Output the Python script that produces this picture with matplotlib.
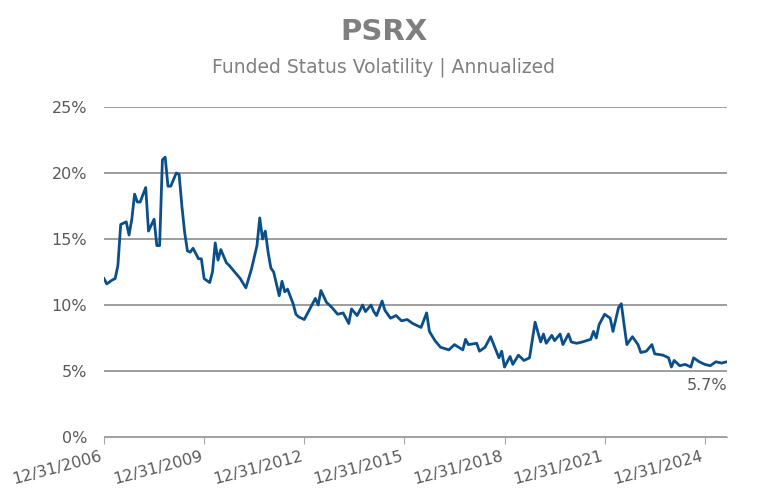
import matplotlib
matplotlib.use("Agg")
import matplotlib.pyplot as plt

# months since 12/31/2006
months = [0,1,3,4,5,6,8,9,10,11,12,13,15,16,18,19,20,21,22,23,24,26,27,28,29,30,31,32,34,35,
          36,38,39,40,41,42,44,45,47,49,51,53,55,56,57,58,59,60,61,63,64,65,66,68,69,70,72,74,76,77,
          78,80,82,84,86,88,89,91,93,94,96,97,98,100,101,103,105,107,109,111,114,116,117,119,121,124,126,129,130,131,
          134,135,137,139,142,143,144,146,147,149,151,153,155,157,158,159,161,162,164,165,167,168,170,172,175,176,177,178,180,182,
          183,185,186,187,188,190,192,193,195,197,198,201,203,204,205,207,209,211,212,214,216,218,220,222,224]
vol = [12.0,11.6,11.9,12.0,13.0,16.1,16.3,15.3,16.5,18.4,17.8,17.8,18.9,15.6,16.5,14.5,14.5,21.0,21.2,19.0,19.0,20.0,19.9,17.5,15.5,14.1,14.0,14.3,13.5,13.5,
       12.0,11.7,12.5,14.7,13.4,14.2,13.2,13.0,12.5,12.0,11.3,12.7,14.5,16.6,15.0,15.6,14.0,12.8,12.5,10.7,11.8,11.0,11.2,10.1,9.3,9.1,8.9,9.7,10.5,10.0,
       11.1,10.2,9.8,9.3,9.4,8.6,9.7,9.2,10.0,9.5,10.0,9.5,9.2,10.3,9.6,9.0,9.2,8.8,8.9,8.6,8.3,9.4,8.0,7.3,6.8,6.6,7.0,6.6,7.4,7.0,
       7.1,6.5,6.8,7.6,6.0,6.5,5.3,6.1,5.5,6.2,5.8,6.0,8.7,7.2,7.8,7.1,7.7,7.3,7.8,7.0,7.8,7.2,7.1,7.2,7.4,8.0,7.5,8.5,9.3,9.0,
       8.0,9.8,10.1,8.5,7.0,7.6,7.0,6.4,6.5,7.0,6.3,6.2,6.0,5.3,5.8,5.4,5.5,5.3,6.0,5.7,5.5,5.4,5.7,5.6,5.7]
tick_months = [0,36,72,108,144,180,216]
tick_labels = ["12/31/2006","12/31/2009","12/31/2012","12/31/2015","12/31/2018","12/31/2021","12/31/2024"]
yticks = [0,5,10,15,20,25]

plt.rcParams['font.family'] = ['DejaVu Sans']
fig = plt.figure(figsize=(7.68,5.01), dpi=100)
ax = fig.add_axes([104/768, 1-437/501, (727-104)/768, (437-107)/501])
ax.plot(months, vol, color='#0b4f8a', lw=2)
ax.set_xlim(0,224)
ax.set_ylim(0,25)
ax.set_yticks(yticks)
ax.set_yticklabels([f"{v}%" for v in yticks], color='#595959', fontsize=11.5)
ax.set_xticks(tick_months)
ax.set_xticklabels(tick_labels, rotation=15, ha='right', color='#595959', fontsize=11.5)
ax.tick_params(axis='y', length=0, pad=12)
ax.tick_params(axis='x', length=5, color='#a6a6a6')
for s in ['top','right','left']:
    ax.spines[s].set_visible(False)
ax.spines['bottom'].set_color('#a6a6a6')
ax.grid(axis='y', color='#8c8c8c', lw=1.2)
ax.set_axisbelow(True)
ax.annotate(f"{vol[-1]}%", (months[-1], vol[-1]), xytext=(0,-12), textcoords='offset points',
            ha='right', va='top', color='#595959', fontsize=11.5)
fig.text(0.5, 1-32/501, "PSRX", ha='center', va='center', fontsize=21, fontweight='bold', color='#7f7f7f')
fig.text(0.5, 1-67/501, "Funded Status Volatility | Annualized", ha='center', va='center', fontsize=13.5, color='#7f7f7f')
fig.savefig("out.png", dpi=100)
